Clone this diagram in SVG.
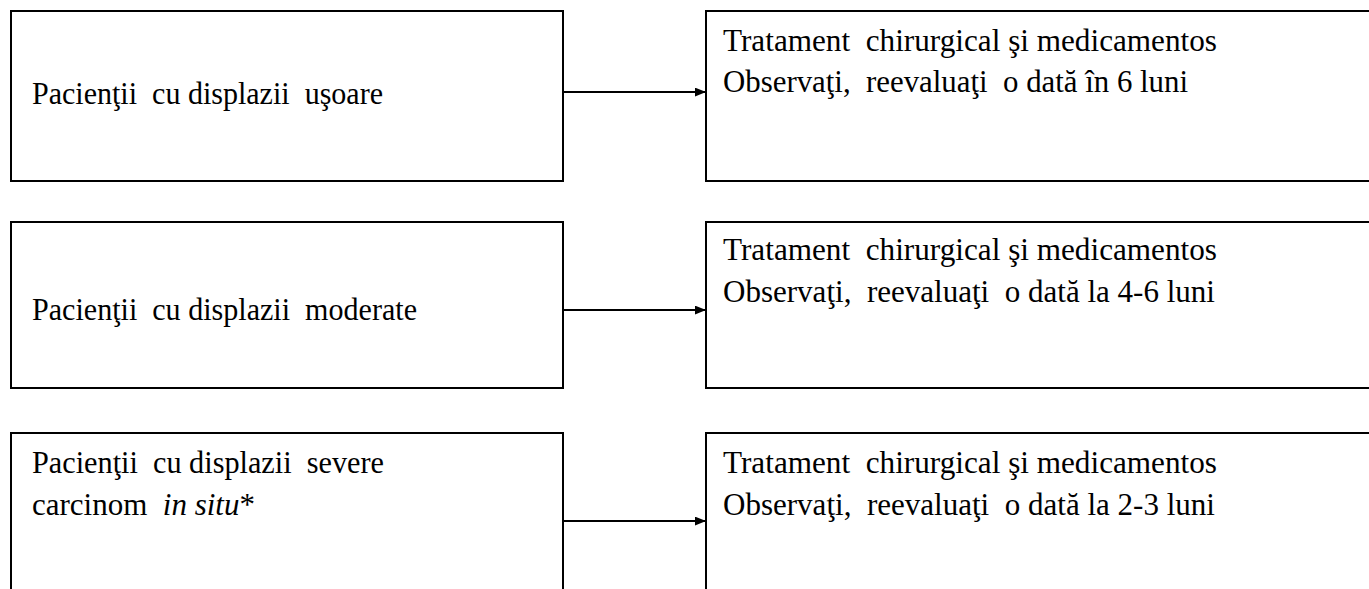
<svg xmlns="http://www.w3.org/2000/svg" width="1369" height="589" viewBox="0 0 1369 589">
<style>
.box{fill:#fff;stroke:#000;stroke-width:2}
.t{font-family:"Liberation Serif","Times New Roman",serif;font-size:31px;fill:#000}
.i{font-style:italic}
.c{stroke:#000;stroke-width:2;fill:none}
</style>
<defs>
<marker id="ah" viewBox="0 0 10 8" refX="10" refY="4" markerWidth="11" markerHeight="9" markerUnits="userSpaceOnUse" orient="auto">
<path d="M0,0 L10,4 L0,8 Z" fill="#000"/>
</marker>
</defs>
<g id="n1">
<rect class="box" x="11" y="11" width="552" height="170"/>
<text class="t" x="32" y="104" textLength="351" lengthAdjust="spacingAndGlyphs" xml:space="preserve">Pacienţii  cu displazii  uşoare</text>
</g>
<g id="n2">
<rect class="box" x="706" y="11" width="680" height="170"/>
<text class="t" x="723" y="51" textLength="494" lengthAdjust="spacingAndGlyphs" xml:space="preserve">Tratament  chirurgical şi medicamentos</text>
<text class="t" x="723" y="92" textLength="465" lengthAdjust="spacingAndGlyphs" xml:space="preserve">Observaţi,  reevaluaţi  o dată în 6 luni</text>
</g>
<g id="n3">
<rect class="box" x="11" y="222" width="552" height="166"/>
<text class="t" x="32" y="320" textLength="385" lengthAdjust="spacingAndGlyphs" xml:space="preserve">Pacienţii  cu displazii  moderate</text>
</g>
<g id="n4">
<rect class="box" x="706" y="222" width="680" height="166"/>
<text class="t" x="723" y="260" textLength="494" lengthAdjust="spacingAndGlyphs" xml:space="preserve">Tratament  chirurgical şi medicamentos</text>
<text class="t" x="723" y="302" textLength="492" lengthAdjust="spacingAndGlyphs" xml:space="preserve">Observaţi,  reevaluaţi  o dată la 4-6 luni</text>
</g>
<g id="n5">
<rect class="box" x="11" y="433" width="552" height="170"/>
<text class="t" x="32" y="473" textLength="352" lengthAdjust="spacingAndGlyphs" xml:space="preserve">Pacienţii  cu displazii  severe</text>
<text class="t" x="32" y="515" xml:space="preserve">carcinom  <tspan class="i">in situ</tspan>*</text>
</g>
<g id="n6">
<rect class="box" x="706" y="433" width="680" height="170"/>
<text class="t" x="723" y="473" textLength="494" lengthAdjust="spacingAndGlyphs" xml:space="preserve">Tratament  chirurgical şi medicamentos</text>
<text class="t" x="723" y="515" textLength="492" lengthAdjust="spacingAndGlyphs" xml:space="preserve">Observaţi,  reevaluaţi  o dată la 2-3 luni</text>
</g>
<g id="connectors">
<line class="c" x1="563" y1="92" x2="706" y2="92" marker-end="url(#ah)"/>
<line class="c" x1="563" y1="310" x2="706" y2="310" marker-end="url(#ah)"/>
<line class="c" x1="563" y1="521" x2="706" y2="521" marker-end="url(#ah)"/>
</g>
</svg>
